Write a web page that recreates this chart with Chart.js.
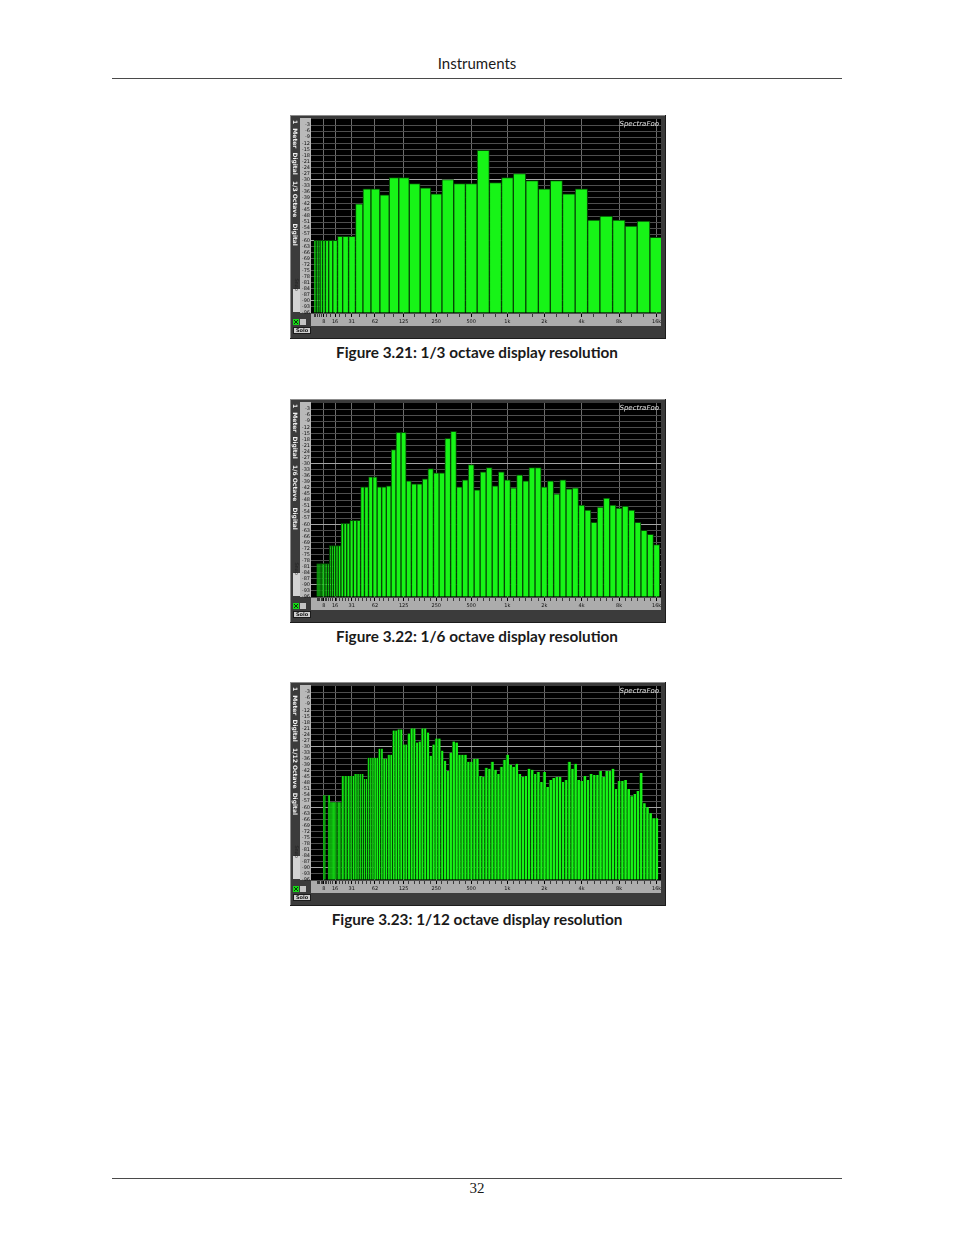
<!DOCTYPE html>
<html>
<head>
<meta charset="utf-8">
<script src="https://cdn.jsdelivr.net/npm/chart.js@4.4.1/dist/chart.umd.min.js"></script>
<style>
body { margin: 0; background: #fff; }
#page { position: relative; width: 954px; height: 1235px; overflow: hidden; font-family: Lato, "Open Sans", sans-serif; color: #1a1a1a; }
.rule { position: absolute; height: 1px; background: #4a4a4a; }
.head { position: absolute; left: 0; width: 954px; text-align: center; }
.fig { position: absolute; left: 290px; width: 376px; height: 224px; }
.cap { position: absolute; left: 0; width: 954px; text-align: center; font-weight: bold; font-size: 15.3px; }
</style>
</head>
<body>
<div id="page">
  <div class="head" style="top:54px;font-size:15px">Instruments</div>
  <div class="rule" style="top:78px;left:112px;width:730px"></div>

  <div class="fig" style="top:115px"><canvas id="oct3" width="376" height="224"></canvas></div>
  <div class="cap" style="top:343px">Figure 3.21: 1/3 octave display resolution</div>

  <div class="fig" style="top:399px"><canvas id="oct6" width="376" height="224"></canvas></div>
  <div class="cap" style="top:627px">Figure 3.22: 1/6 octave display resolution</div>

  <div class="fig" style="top:682px"><canvas id="oct12" width="376" height="224"></canvas></div>
  <div class="cap" style="top:910px">Figure 3.23: 1/12 octave display resolution</div>

  <div class="rule" style="top:1178px;left:112px;width:730px"></div>
  <div class="head" style="top:1180px;font-family:'Liberation Serif',serif;font-size:15px">32</div>
</div>

<script>
// level axis (dB)
var yMin = -96, yMax = 0;
var yTickVals = [-3, -6, -9, -12, -15, -18, -21, -24, -27, -30, -33, -36, -39, -42, -45, -48,
    -51, -54, -57, -60, -63, -66, -69, -72, -75, -78, -81, -84, -87, -90, -93, -96];

// frequency axis
var xEdgeFreqs = [0.6, 17350];
var xTickFreqs = [8, 16, 31.5, 62.5, 125, 250, 500, 1000, 2000, 4000, 8000, 16000];
var xTickLabels = ['8', '16', '31', '62', '125', '250', '500', '1k', '2k', '4k', '8k', '16k'];

// 1/3 octave bands
var bands3 = [2.5, 3.15, 4, 5, 6.3, 8, 10, 12.5, 16, 20, 25, 31.5, 40, 50, 63, 80, 100, 125, 160, 200,
    250, 315, 400, 500, 630, 800, 1000, 1250, 1600, 2000, 2500, 3150, 4000, 5000, 6300, 8000, 10000, 12500, 16000];
var levels3 = [-60, -60, -60, -60, -60, -60, -60, -60, -60, -58, -58, -58, -42, -34.5, -34.5, -37.5, -29, -29, -32, -34,
    -37, -30, -32, -32, -15.5, -31.5, -29, -27, -30.5, -34.5, -30.5, -37, -34.5, -50, -48, -50, -53, -50.5, -58.5];

// 1/6 octave bands
var bands6 = [3.9, 4.4, 4.9, 5.5, 6.2, 7, 7.8, 8.8, 9.8, 11, 12.4, 13.9, 15.6, 17.5, 19.7, 22.1, 24.8, 27.8,
    31.3, 35.1, 39.4, 44.2, 49.6, 55.7, 62.5, 70.2, 78.7, 88.4, 99.2, 111, 125, 140, 157, 177, 198, 223,
    250, 281, 315, 354, 397, 445, 500, 561, 630, 707, 794, 891, 1000, 1122, 1260, 1414, 1587, 1782,
    2000, 2245, 2520, 2828, 3175, 3564, 4000, 4490, 5040, 5657, 6350, 7127, 8000, 8980, 10079, 11314,
    12699, 14254, 16000];
var levels6 = [-79.5, -79.5, -79.5, -79.5, -79.5, -79.5, -79.5, -79.5, -79.5, -79.5, -70.5, -70.5, -70.5, -70.5, -70.5, -59.5, -59.5, -59.5,
    -58, -58, -58, -41.5, -41.5, -36.5, -36.5, -41.5, -41.5, -41, -23, -14.5, -14.5, -38.5, -40, -40, -37.5, -32.5,
    -34.5, -34.5, -17.5, -14, -41.5, -38, -30.5, -43, -34, -32, -41, -34, -38, -42, -35.5, -38.5, -32, -32,
    -41.5, -38.5, -45, -38, -42.5, -42, -50.5, -53, -59, -51.5, -47, -50.5, -52, -51, -53, -59,
    -63, -65, -70];

// 1/12 octave bands
var bands12 = [7.81, 8.28, 8.77, 9.29, 9.84, 10.4, 11.0, 11.7, 12.4, 13.1, 13.9, 14.7,
    15.6, 16.6, 17.5, 18.6, 19.7, 20.9, 22.1, 23.4, 24.8, 26.3, 27.8, 29.5,
    31.3, 33.1, 35.1, 37.2, 39.4, 41.7, 44.2, 46.8, 49.6, 52.6, 55.7, 59.0,
    62.5, 66.2, 70.2, 74.3, 78.7, 83.4, 88.4, 93.6, 99.2, 105, 111, 118,
    125, 132, 140, 149, 157, 167, 177, 187, 198, 210, 223, 236,
    250, 265, 281, 297, 315, 334, 354, 375, 397, 420, 445, 472,
    500, 530, 561, 595, 630, 667, 707, 749, 794, 841, 891, 944,
    1000, 1059, 1122, 1189, 1260, 1335, 1414, 1498, 1587, 1682, 1782, 1888,
    2000, 2119, 2245, 2378, 2520, 2670, 2828, 2997, 3175, 3364, 3564, 3775,
    4000, 4238, 4490, 4757, 5040, 5339, 5657, 5993, 6350, 6727, 7127, 7551,
    8000, 8476, 8980, 9514, 10079, 10679, 11314, 11986, 12699, 13454, 14254, 15101,
    16000];
var levels12 = [-54, -54, -54, null, null, null, -54, -54, -57.5, -57.5, -57.5, -57.5,
    -57.5, -57.5, -57.5, -57.5, -57.5, -57.5, -44.5, -44.5, -44.5, -44.5, -44.5, -44.5,
    -44.5, -44.5, -43.5, -43.5, -43.5, -43.5, -43.5, -46, -46, -35.5, -35.5, -35.5,
    -35.5, -35.5, -31, -31, -36, -36, -34, -34, -22, -22, -21.5, -21.5,
    -29, -29, -23.5, -21, -21, -28, -27.5, -21, -21, -23, -34.5, -29,
    -26, -26, -32, -37, -42, -33, -27.5, -28, -34, -34, -34, -37.5,
    -37.5, -36, -36, -44.5, -45, -40.5, -41, -37.5, -41.5, -43.5, -40, -36.5,
    -34, -39, -40, -38.5, -43.5, -45, -44.5, -41, -41.5, -43.5, -42.5, -47.5,
    -42.5, -50, -46.5, -45.5, -45, -45, -47.5, -46.5, -37.5, -41, -38.5, -46.5,
    -47, -44.5, -46.5, -43.5, -44, -44, -42, -45, -42, -42, -41, -51,
    -47, -47, -46.5, -51, -54.5, -53.5, -52, -43, -58, -60, -63, -65.5,
    -65.5];

// the analyser's frequency axis is roughly log(f + 27 Hz), squeezed at the low end
function warp(f) {
    return Math.log2(f + 27);
}

var frame = {
    id: 'frame',
    beforeDraw: function (chart) {
        var ctx = chart.ctx, a = chart.chartArea;
        ctx.save();
        ctx.fillStyle = '#3b3b3b';
        ctx.fillRect(0, 0, chart.width, chart.height);
        ctx.fillStyle = '#8c8c8c';
        ctx.fillRect(0, 0, chart.width, 1);
        ctx.fillRect(0, 0, 1, chart.height);
        ctx.fillStyle = '#1c1c1c';
        ctx.fillRect(0, chart.height - 1, chart.width, 1);
        ctx.fillRect(chart.width - 1, 0, 1, chart.height);
        // level label column
        ctx.fillStyle = '#b9b9b9';
        ctx.fillRect(10, a.top - 1, a.left - 10, a.bottom - a.top + 1);
        // frequency ruler
        ctx.fillStyle = '#acacac';
        ctx.fillRect(a.left, a.bottom, a.right - a.left, 13);
        // plot
        ctx.fillStyle = '#000';
        ctx.fillRect(a.left, a.top, a.right - a.left, a.bottom - a.top);
        ctx.restore();
    },
    afterDraw: function (chart, args, opts) {
        var ctx = chart.ctx, a = chart.chartArea;
        ctx.save();
        ctx.font = 'italic 7px "DejaVu Sans"';
        ctx.fillStyle = '#e0e0e0';
        ctx.textAlign = 'right';
        ctx.textBaseline = 'alphabetic';
        ctx.fillText('SpectraFoo', a.right - 2, a.top + 7);

        // vertical meter caption on the left strip
        ctx.save();
        ctx.translate(8, a.top + 1);
        ctx.rotate(Math.PI / 2);
        ctx.font = 'bold 6px "DejaVu Sans"';
        ctx.fillStyle = '#f0f0f0';
        ctx.textAlign = 'left';
        ctx.textBaseline = 'top';
        ctx.fillText(opts.side, 0, 0);
        ctx.restore();

        // snap box
        ctx.fillStyle = '#d4d4d4';
        ctx.fillRect(3, a.bottom - 24, 7, 23);
        ctx.save();
        ctx.translate(8.5, a.bottom - 22);
        ctx.rotate(Math.PI / 2);
        ctx.font = '5px "DejaVu Sans"';
        ctx.fillStyle = '#222';
        ctx.textBaseline = 'top';
        ctx.fillText('Snap', 0, 0);
        ctx.restore();

        // buttons under the strip
        ctx.fillStyle = '#18d818';
        ctx.fillRect(3, a.bottom + 6, 6, 6);
        ctx.strokeStyle = '#063806';
        ctx.lineWidth = 1;
        ctx.beginPath();
        ctx.moveTo(4, a.bottom + 7); ctx.lineTo(8, a.bottom + 11);
        ctx.moveTo(8, a.bottom + 7); ctx.lineTo(4, a.bottom + 11);
        ctx.stroke();
        ctx.fillStyle = '#c4c4c4';
        ctx.fillRect(10, a.bottom + 6, 6, 6);
        ctx.fillStyle = '#cfcfcf';
        ctx.fillRect(3, a.bottom + 14, 18, 7);
        ctx.strokeStyle = '#1a1a1a';
        ctx.strokeRect(3.5, a.bottom + 14.5, 17, 6);
        ctx.font = 'bold 5px "DejaVu Sans"';
        ctx.fillStyle = '#111';
        ctx.textAlign = 'center';
        ctx.textBaseline = 'middle';
        ctx.fillText('Solo', 12, a.bottom + 17.5);
        ctx.restore();
    }
};

function makeChart(id, bands, levels, minorFreqs, side, border) {
    var majors = xTickFreqs.map(function (f, i) {
        return { value: warp(f), name: xTickLabels[i] };
    });
    var minors = minorFreqs.map(function (f) {
        return { value: warp(f) };
    }).filter(function (t) {
        return !majors.some(function (m) { return Math.abs(m.value - t.value) < 0.02; });
    });
    var xTicks = minors.concat(majors).sort(function (p, q) { return p.value - q.value; });

    return new Chart(document.getElementById(id), {
        type: 'bar',
        data: {
            datasets: [{
                data: bands.map(function (f, i) { return { x: warp(f), y: levels[i] }; }),
                backgroundColor: '#17f417',
                borderColor: '#074507',
                borderWidth: border,
                borderSkipped: 'start',
                base: yMin,
                barThickness: 'flex',
                categoryPercentage: 1,
                barPercentage: 1
            }]
        },
        options: {
            responsive: false,
            animation: false,
            events: [],
            layout: { padding: { left: 10, top: 4, right: 5, bottom: 13 } },
            plugins: {
                legend: { display: false },
                tooltip: { enabled: false },
                frame: { side: side }
            },
            scales: {
                x: {
                    type: 'linear',
                    min: warp(xEdgeFreqs[0]),
                    max: warp(xEdgeFreqs[1]),
                    offset: false,
                    afterBuildTicks: function (s) { s.ticks = xTicks.map(function (t) { return Object.assign({}, t); }); },
                    afterFit: function (s) { s.height = 13; },
                    border: { display: false },
                    grid: {
                        offset: false,
                        color: function (c) { return c.tick && c.tick.name ? '#6c6c6c' : 'rgba(0,0,0,0)'; },
                        tickColor: function (c) { return c.tick && c.tick.name ? '#000' : '#3a3a3a'; },
                        tickLength: 4
                    },
                    ticks: {
                        autoSkip: false,
                        maxRotation: 0,
                        padding: 2,
                        color: '#111',
                        font: { size: 5, family: 'DejaVu Sans' },
                        callback: function (v, i, t) { return t[i].name || ''; }
                    }
                },
                y: {
                    min: yMin,
                    max: yMax,
                    afterBuildTicks: function (s) { s.ticks = yTickVals.map(function (v) { return { value: v }; }); },
                    afterFit: function (s) { s.width = 11; },
                    border: { display: false },
                    grid: {
                        drawTicks: false,
                        color: function (c) { return c.tick && c.tick.value % 30 === 0 ? '#a4a4a4' : '#4e4e4e'; }
                    },
                    ticks: {
                        autoSkip: false,
                        padding: 1,
                        color: '#111',
                        font: { size: 5, family: 'DejaVu Sans' },
                        callback: function (v) { return String(v); }
                    }
                }
            }
        },
        plugins: [frame]
    });
}

makeChart('oct3', bands3, levels3, bands3, '1  Meter  Digital   1/3 Octave   Digital', 1);
makeChart('oct6', bands6, levels6, bands6, '1  Meter  Digital   1/6 Octave   Digital', 1);
makeChart('oct12', bands12, levels12, bands6, '1  Meter  Digital   1/12 Octave  Digital', { left: 1 });
</script>
</body>
</html>
